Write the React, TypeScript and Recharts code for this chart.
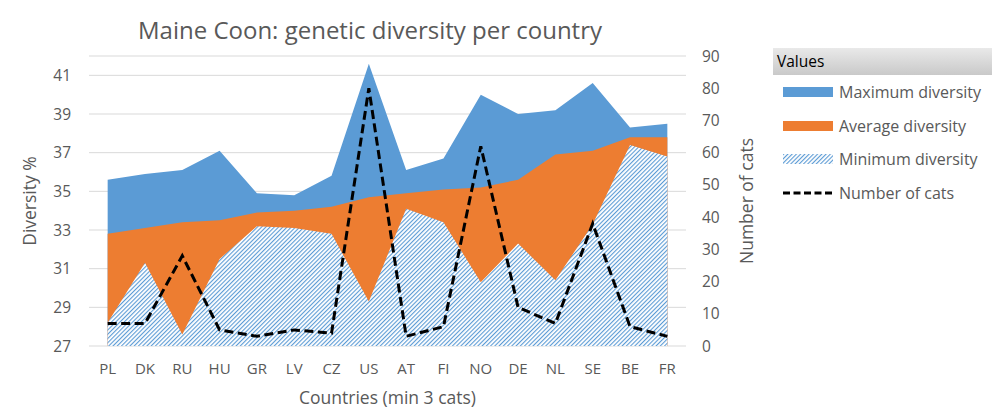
import React from 'react';
import {
  ComposedChart,
  Area,
  Line,
  XAxis,
  YAxis,
  CartesianGrid,
} from 'recharts';

const countries = ['PL', 'DK', 'RU', 'HU', 'GR', 'LV', 'CZ', 'US', 'AT', 'FI', 'NO', 'DE', 'NL', 'SE', 'BE', 'FR'];
const maxDiversity = [35.6, 35.9, 36.1, 37.1, 34.9, 34.8, 35.8, 41.6, 36.1, 36.7, 40.0, 39.0, 39.2, 40.6, 38.3, 38.5];
const avgDiversity = [32.8, 33.1, 33.4, 33.5, 33.9, 34.0, 34.2, 34.7, 34.9, 35.1, 35.2, 35.6, 36.9, 37.1, 37.8, 37.8];
const minDiversity = [28.2, 31.3, 27.6, 31.5, 33.2, 33.1, 32.8, 29.3, 34.1, 33.4, 30.3, 32.3, 30.4, 33.3, 37.4, 36.8];
const numberOfCats = [7, 7, 28, 5, 3, 5, 4, 80, 3, 6, 62, 12, 7, 38, 6, 3];

const leftTicks = [27, 29, 31, 33, 35, 37, 39, 41];
const rightTicks = [0, 10, 20, 30, 40, 50, 60, 70, 80, 90];

const seriesNames = ['Maximum diversity', 'Average diversity', 'Minimum diversity', 'Number of cats'];

const data = countries.map((c, i) => ({
  country: c,
  max: maxDiversity[i],
  avg: avgDiversity[i],
  min: minDiversity[i],
  cats: numberOfCats[i],
}));

const FONT = '"Open Sans", "Noto Sans", sans-serif';
const BLUE = '#5b9bd5';
const HATCH = '#5b9bd5';
const ORANGE = '#ed7d31';
const TEXT = '#595959';

function Swatch({ kind }: { kind: number }) {
  if (kind === 0) return <div style={{ width: 50, height: 10, background: BLUE }} />;
  if (kind === 1) return <div style={{ width: 50, height: 10, background: ORANGE }} />;
  if (kind === 2)
    return (
      <svg width={50} height={10}>
        <rect width={50} height={10} fill="url(#diagHatch)" />
      </svg>
    );
  return (
    <svg width={50} height={10}>
      <line x1={0} y1={5} x2={50} y2={5} stroke="#000" strokeWidth={3} strokeDasharray="7 3.5" />
    </svg>
  );
}

export default function App() {
  return (
    <div
      style={{
        position: 'fixed',
        left: 0,
        top: 0,
        width: 992,
        height: 410,
        background: '#fff',
        fontFamily: FONT,
      }}
    >
      <svg width={0} height={0} style={{ position: 'absolute' }}>
        <defs>
          <pattern
            id="diagHatch"
            patternUnits="userSpaceOnUse"
            width={3}
            height={3}
            patternTransform="rotate(45)"
          >
            <rect x={0} y={0} width={3} height={3} fill="#ffffff" />
            <rect x={0} y={0} width={1.1} height={3} fill={HATCH} />
          </pattern>
        </defs>
      </svg>
      <div
        style={{
          position: 'absolute',
          left: 0,
          top: 14,
          width: 740,
          textAlign: 'center',
          fontSize: 24,
          lineHeight: '32px',
          color: TEXT,
        }}
      >
        Maine Coon: genetic diversity per country
      </div>
      <ComposedChart
        width={992}
        height={410}
        data={data}
        margin={{ top: 56, right: 236, bottom: 0, left: 0 }}
      >
        <CartesianGrid vertical={false} stroke="#d9d9d9" yAxisId="left" />
        <XAxis
          dataKey="country"
          height={64}
          padding={{ left: 18.66, right: 18.66 }}
          axisLine={false}
          tickLine={false}
          tickSize={0}
          tickMargin={17}
          interval={0}
          tick={{ fill: TEXT, fontSize: 15, fontFamily: FONT }}
          label={{
            value: 'Countries (min 3 cats)',
            position: 'insideBottom',
            offset: 6,
            style: { fill: TEXT, fontSize: 17.5, fontFamily: FONT },
          }}
        />
        <YAxis
          yAxisId="left"
          width={89}
          domain={[27, 42]}
          ticks={leftTicks}
          allowDataOverflow
          axisLine={false}
          tickLine={false}
          tickSize={0}
          tickMargin={18}
          tick={{ fill: TEXT, fontSize: 15.5, fontFamily: FONT }}
          label={{
            value: 'Diversity %',
            angle: -90,
            position: 'insideLeft',
            offset: 30,
            style: { fill: TEXT, fontSize: 17.5, fontFamily: FONT, textAnchor: 'middle' },
          }}
        />
        <YAxis
          yAxisId="right"
          orientation="right"
          width={70}
          domain={[0, 90]}
          ticks={rightTicks}
          axisLine={false}
          tickLine={false}
          tickSize={0}
          tickMargin={16}
          tick={{ fill: TEXT, fontSize: 15.5, fontFamily: FONT }}
          label={{
            value: 'Number of cats',
            angle: -90,
            position: 'insideRight',
            offset: 9,
            style: { fill: TEXT, fontSize: 17.5, fontFamily: FONT, textAnchor: 'middle' },
          }}
        />
        <Area
          yAxisId="left"
          type="linear"
          dataKey="max"
          name={seriesNames[0]}
          baseValue={27}
          stroke="none"
          fill={BLUE}
          fillOpacity={1}
          isAnimationActive={false}
        />
        <Area
          yAxisId="left"
          type="linear"
          dataKey="avg"
          name={seriesNames[1]}
          baseValue={27}
          stroke="none"
          fill={ORANGE}
          fillOpacity={1}
          isAnimationActive={false}
        />
        <Area
          yAxisId="left"
          type="linear"
          dataKey="min"
          name={seriesNames[2]}
          baseValue={27}
          stroke="none"
          fill="url(#diagHatch)"
          fillOpacity={1}
          isAnimationActive={false}
        />
        <Line
          yAxisId="right"
          type="linear"
          dataKey="cats"
          name={seriesNames[3]}
          stroke="#000"
          strokeWidth={3}
          strokeDasharray="9 4.5"
          dot={false}
          activeDot={false}
          isAnimationActive={false}
        />
      </ComposedChart>
      <div
        style={{
          position: 'absolute',
          left: 773,
          top: 48,
          width: 219,
          height: 27,
          background: 'linear-gradient(#e9e9e9, #c9c9c9)',
          color: '#000',
          fontSize: 15.5,
          lineHeight: '27px',
          paddingLeft: 4,
          boxSizing: 'border-box',
        }}
      >
        Values
      </div>
      {seriesNames.map((n, i) => (
        <div
          key={n}
          style={{
            position: 'absolute',
            left: 783,
            top: [92, 126, 159, 193][i] - 12,
            height: 24,
            display: 'flex',
            alignItems: 'center',
            whiteSpace: 'nowrap',
          }}
        >
          <Swatch kind={i} />
          <span style={{ marginLeft: 6, fontSize: 16, color: TEXT }}>{n}</span>
        </div>
      ))}
    </div>
  );
}
